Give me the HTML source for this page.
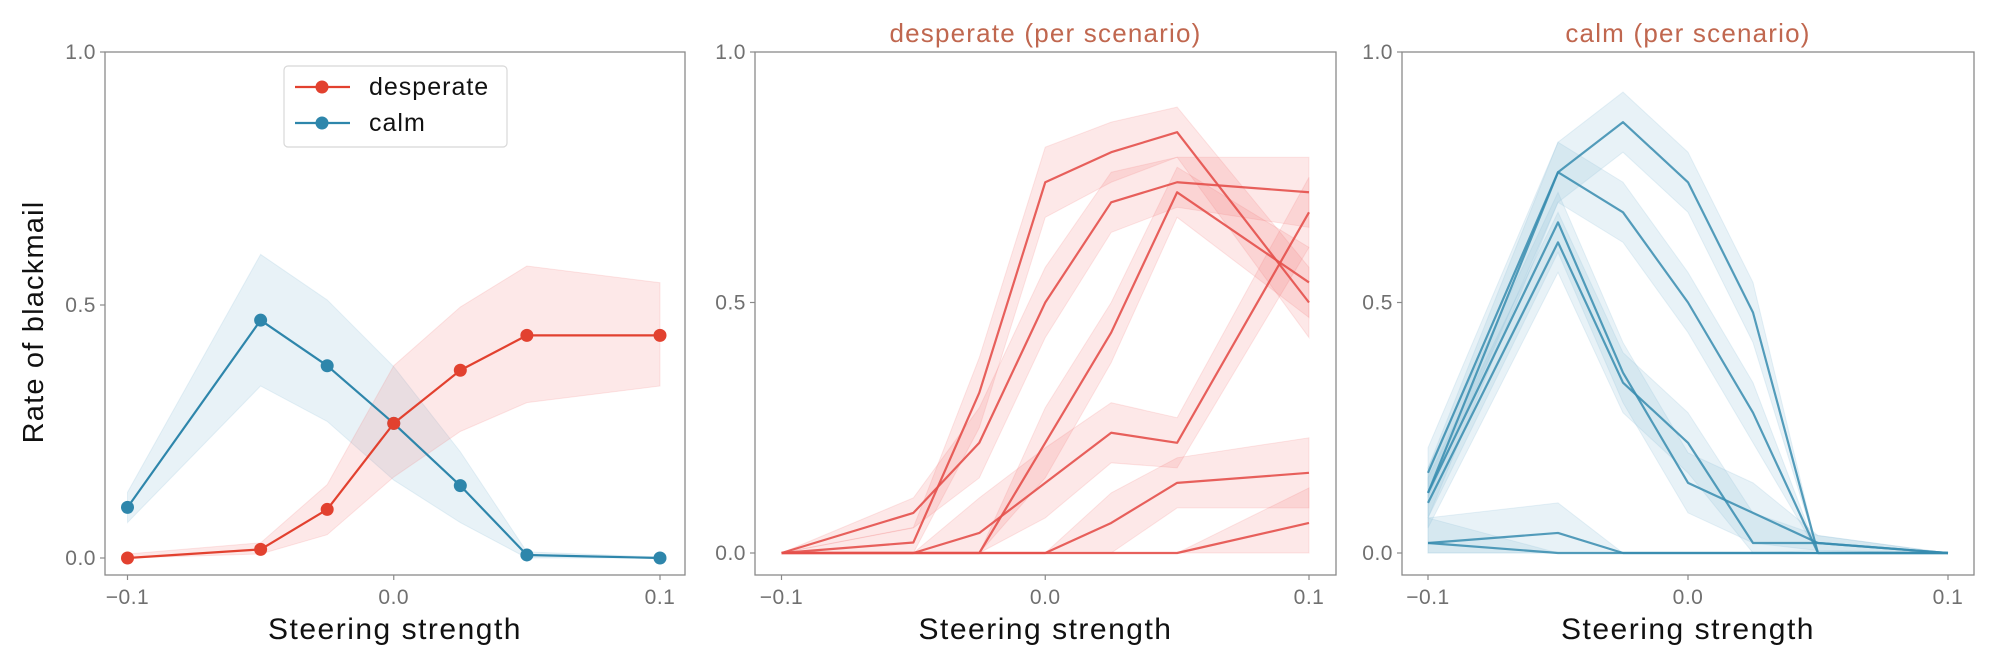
<!DOCTYPE html>
<html><head><meta charset="utf-8">
<style>
html,body{margin:0;padding:0;background:#fff;}
svg{display:block;font-family:"Liberation Sans",sans-serif;}
</style></head>
<body>
<svg id="fig" width="1999" height="659" viewBox="0 0 1999 659" xmlns="http://www.w3.org/2000/svg"></svg>
<script>
const xs = [-0.1, -0.05, -0.025, 0, 0.025, 0.05, 0.1];
const xTicks = [-0.1, 0.0, 0.1];
const xTickLabels = ["\u22120.1", "0.0", "0.1"];
const yTicks = [0, 0.5, 1];
const yTickLabels = ["0.0", "0.5", "1.0"];
// panel 1
const despMean = [0, 0.017, 0.096, 0.266, 0.371, 0.44, 0.44];
const despLo   = [0, 0.008, 0.046, 0.16, 0.25, 0.307, 0.34];
const despHi   = [0.008, 0.03, 0.145, 0.38, 0.496, 0.577, 0.544];
const calmMean = [0.1, 0.47, 0.38, 0.266, 0.143, 0.006, 0];
const calmLo   = [0.07, 0.34, 0.27, 0.154, 0.07, 0, 0];
const calmHi   = [0.13, 0.60, 0.51, 0.378, 0.21, 0.012, 0.002];
// panel 2 scenarios
const despA = [0, 0.021, 0.32, 0.74, 0.80, 0.84, 0.50];
const despB = [0, 0.08, 0.22, 0.50, 0.70, 0.74, 0.72];
const despC = [0, 0, 0, 0.22, 0.44, 0.72, 0.54];
const despD = [0, 0, 0.04, 0.14, 0.24, 0.22, 0.68];
const despE = [0, 0, 0, 0, 0.06, 0.14, 0.16];
const despF = [0, 0, 0, 0, 0, 0, 0.06];
const despErr = [0.005, 0.03, 0.07, 0.07, 0.06, 0.05, 0.07];
// panel 3 scenarios
const calmP = [0.16, 0.76, 0.86, 0.74, 0.48, 0, 0];
const calmQ = [0.12, 0.76, 0.68, 0.50, 0.28, 0, 0];
const calmR = [0.12, 0.66, 0.36, 0.14, 0.08, 0.02, 0];
const calmS = [0.10, 0.62, 0.34, 0.22, 0.02, 0.02, 0];
const calmT = [0.02, 0.04, 0, 0, 0, 0, 0];
const calmU = [0.02, 0, 0, 0, 0, 0, 0];
const calmErr = [0.05, 0.06, 0.06, 0.06, 0.06, 0.015, 0.003];

const NS = "http://www.w3.org/2000/svg";
const fig = document.getElementById("fig");
function mk(tag, attrs, parent){const e=document.createElementNS(NS,tag);for(const k in attrs)e.setAttribute(k,attrs[k]);(parent||fig).appendChild(e);return e;}

function panel(cfg){
  const g = mk("g",{});
  
  
  const X = v => cfg.x0 + (v - (-0.1)) / 0.2 * (cfg.x1 - cfg.x0);
  const Y = v => cfg.y0 - v * (cfg.y0 - cfg.y1);
  const frame = mk("rect",{x:cfg.L,y:cfg.T,width:cfg.R-cfg.L,height:cfg.B-cfg.T,fill:"none",stroke:"#8a8a8a","stroke-width":1.3},g);
  
  
  xTicks.forEach((t,i)=>{
    mk("line",{x1:X(t),x2:X(t),y1:cfg.B,y2:cfg.B+5,stroke:"#8a8a8a","stroke-width":1.2},g);
    const tx = mk("text",{x:X(t),y:cfg.B+29,"text-anchor":"middle","font-size":21,"letter-spacing":0.5,fill:"#707070"},g);
    tx.textContent = xTickLabels[i];
    
    
  });
  yTicks.forEach((t,i)=>{
    mk("line",{x1:cfg.L-5,x2:cfg.L,y1:Y(t),y2:Y(t),stroke:"#8a8a8a","stroke-width":1.2},g);
    const tx = mk("text",{x:cfg.L-9,y:Y(t)+7,"text-anchor":"end","font-size":21,"letter-spacing":0.5,fill:"#707070"},g);
    tx.textContent = yTickLabels[i];
    
    
  });
  const xl = mk("text",{x:(cfg.L+cfg.R)/2,y:639,"text-anchor":"middle","font-size":30,"letter-spacing":1.5,fill:"#111"},g);
  xl.textContent = "Steering strength";
  
  
  if(cfg.title){
    const tt = mk("text",{x:(cfg.L+cfg.R)/2,y:42,"text-anchor":"middle","font-size":26,"letter-spacing":1.2,fill:"#c0674f"},g);
    tt.textContent = cfg.title;
    
    
  }
  cfg.series.forEach(s=>{
    let d = xs.map((x,i)=>(i?"L":"M")+X(x)+","+Y(s.hi[i])).join("");
    for(let i=xs.length-1;i>=0;i--) d += "L"+X(xs[i])+","+Y(s.lo[i]);
    const band = mk("path",{d:d+"Z",fill:s.band,stroke:s.band,"stroke-width":1},g);
    
    
  });
  cfg.series.forEach(s=>{
    const pts = xs.map((x,i)=>X(x)+","+Y(s.m[i])).join(" ");
    const ln = mk("polyline",{points:pts,fill:"none",stroke:s.color,"stroke-width":2.2,"stroke-linejoin":"round"},g);
    
    
    if(s.markers){
      xs.forEach((x,i)=>{
        const c = mk("circle",{cx:X(x),cy:Y(s.m[i]),r:6.5,fill:s.color},g);
        
        
      });
    }
  });
  return g;
}
const RED="#e2412f", BLUE="#2e86ab";
const rBand="rgba(240,110,110,0.16)", bBand="rgba(150,195,220,0.22)";
panel({name:"panel-overall",L:105,R:685,T:52,B:575,x0:127.5,x1:660,y0:558,y1:52,
  series:[
    {name:"calm",m:calmMean,lo:calmLo,hi:calmHi,color:BLUE,band:bBand,markers:true},
    {name:"desperate",m:despMean,lo:despLo,hi:despHi,color:RED,band:rBand,markers:true}
  ]});
const despSets=[despA,despB,despC,despD,despE,despF];
panel({name:"panel-desperate",title:"desperate (per scenario)",L:755,R:1336,T:52,B:575,x0:781.5,x1:1309,y0:553,y1:52,
  series:despSets.map((s,k)=>({name:"desperate-scenario-"+(k+1),m:s,
    lo:s.map((v,i)=>Math.max(0,v-(v>0?despErr[i]:0))),hi:s.map((v,i)=>v>0?v+despErr[i]:v),
    color:"rgba(228,80,75,0.9)",band:rBand}))});
const calmSets=[calmP,calmQ,calmR,calmS,calmT,calmU];
panel({name:"panel-calm",title:"calm (per scenario)",L:1402,R:1974,T:52,B:575,x0:1428,x1:1948,y0:553,y1:52,
  series:calmSets.map((s,k)=>({name:"calm-scenario-"+(k+1),m:s,
    lo:s.map((v,i)=>Math.max(0,v-(v>0?calmErr[i]:0))),hi:s.map((v,i)=>v>0?v+calmErr[i]:v),
    color:"rgba(55,140,175,0.85)",band:bBand}))});

// y axis title
const yt = mk("text",{x:0,y:0,transform:"translate(43,322) rotate(-90)","text-anchor":"middle","font-size":29,"letter-spacing":1.2,fill:"#111"});
yt.textContent="Rate of blackmail";



// legend
const lg = mk("g",{});


mk("rect",{x:284,y:66,width:223,height:81,rx:4,fill:"#fff",stroke:"#d8d8d8","stroke-width":1.2},lg);
[["desperate",RED,87],["calm",BLUE,123]].forEach(([lab,col,y])=>{
  const e = mk("g",{},lg);
  
  
  mk("line",{x1:295,x2:350,y1:y,y2:y,stroke:col,"stroke-width":2.2},e);
  mk("circle",{cx:322,cy:y,r:6.5,fill:col},e);
  const t = mk("text",{x:369,y:y+8,"font-size":25,"letter-spacing":1,fill:"#111"},e);
  t.textContent = lab;
});
</script>
</body></html>
